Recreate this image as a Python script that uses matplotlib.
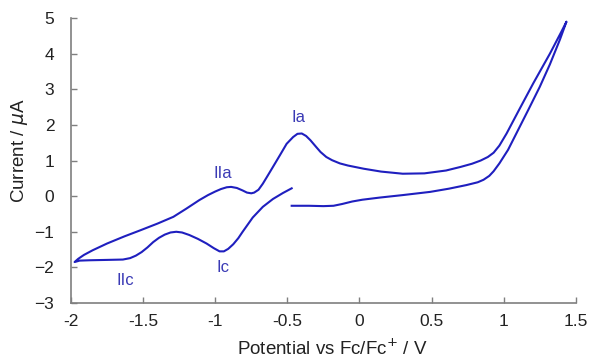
import matplotlib
matplotlib.use("Agg")
import matplotlib.pyplot as plt

plt.rcParams['font.family'] = ['Liberation Sans', 'DejaVu Sans']

# Forward (anodic) sweep from -0.47 V to 1.435 V
x_fwd = [-0.47, -0.35, -0.25, -0.18, -0.12, -0.05, 0.02, 0.14, 0.30, 0.49, 0.62,
         0.74, 0.82, 0.86, 0.90, 0.93, 0.97, 1.03, 1.09, 1.17, 1.25, 1.32, 1.39, 1.435]
y_fwd = [-0.27, -0.27, -0.28, -0.27, -0.22, -0.15, -0.10, -0.04, 0.03, 0.12, 0.21,
         0.31, 0.39, 0.46, 0.57, 0.70, 0.92, 1.30, 1.78, 2.42, 3.07, 3.70, 4.40, 4.90]

# Reverse (cathodic) sweep from 1.435 V to -1.975 V
x_rev = [1.40, 1.32, 1.205, 1.11, 1.02, 0.97, 0.93, 0.89, 0.84, 0.78, 0.70, 0.60,
         0.45, 0.30, 0.15, 0.03, -0.08, -0.136, -0.19, -0.23, -0.27, -0.30, -0.34,
         -0.37, -0.40, -0.43, -0.46, -0.505, -0.55, -0.60, -0.64, -0.67, -0.70,
         -0.73, -0.75, -0.78, -0.81, -0.85, -0.89, -0.92, -0.96, -1.00, -1.05,
         -1.11, -1.20, -1.29, -1.40, -1.52, -1.63, -1.75, -1.85, -1.91, -1.95, -1.975]
y_rev = [4.62, 4.00, 3.17, 2.45, 1.76, 1.42, 1.22, 1.10, 1.00, 0.91, 0.82, 0.72,
         0.64, 0.63, 0.69, 0.77, 0.86, 0.92, 1.01, 1.10, 1.24, 1.38, 1.57,
         1.69, 1.76, 1.75, 1.66, 1.47, 1.16, 0.82, 0.55, 0.35, 0.18,
         0.10, 0.08, 0.10, 0.16, 0.23, 0.26, 0.25, 0.20, 0.13, 0.03,
         -0.11, -0.35, -0.58, -0.77, -0.96, -1.13, -1.33, -1.52, -1.65, -1.76, -1.85]

# Return sweep from -1.975 V back to -0.47 V
x_ret = [-1.94, -1.87, -1.75, -1.64, -1.59, -1.55, -1.51, -1.47, -1.43, -1.39,
         -1.35, -1.31, -1.27, -1.23, -1.18, -1.12, -1.06, -1.01, -0.97, -0.94,
         -0.91, -0.875, -0.84, -0.81, -0.74, -0.67, -0.60, -0.53, -0.47]
y_ret = [-1.81, -1.80, -1.79, -1.78, -1.74, -1.67, -1.57, -1.44, -1.29, -1.17,
         -1.08, -1.02, -1.00, -1.02, -1.09, -1.20, -1.33, -1.46, -1.55, -1.55,
         -1.48, -1.35, -1.18, -1.00, -0.60, -0.30, -0.08, 0.09, 0.22]

peak_labels = ["Ia", "IIa", "Ic", "IIc"]
peak_x = [-0.42, -0.945, -0.945, -1.62]
peak_y = [2.22, 0.65, -1.99, -2.36]

x_ticks = [-2, -1.5, -1, -0.5, 0, 0.5, 1, 1.5]
x_ticklabels = ["-2", "-1.5", "-1", "-0.5", "0", "0.5", "1", "1.5"]
y_ticks = [-3, -2, -1, 0, 1, 2, 3, 4, 5]

line_color = "#1f1fbf"
text_color = "#3a3ab5"
axis_color = "#7f7f7f"

fig = plt.figure(figsize=(5.9, 3.62), dpi=100)
ax = fig.add_axes([0.1203, 0.163, 0.976 - 0.1203, 0.950 - 0.163])

ax.plot(x_fwd + x_rev + x_ret, y_fwd + y_rev + y_ret, color=line_color, lw=1.5,
        solid_joinstyle='round')

for lab, px, py in zip(peak_labels, peak_x, peak_y):
    ax.text(px, py, lab, color=text_color, fontsize=12, ha='center', va='center')

ax.set_xlim(-2, 1.5)
ax.set_ylim(-3, 5)
ax.set_xticks(x_ticks)
ax.set_xticklabels(x_ticklabels)
ax.set_yticks(y_ticks)

for s in ['top', 'right']:
    ax.spines[s].set_visible(False)
for s in ['left', 'bottom']:
    ax.spines[s].set_color(axis_color)
    ax.spines[s].set_linewidth(1.2)

ax.tick_params(axis='both', direction='in', length=4, width=1, color=axis_color,
               labelsize=12.5, labelcolor='#222222')
ax.tick_params(axis='y', pad=12)
ax.tick_params(axis='x', pad=8)

ax.set_ylabel("Current / $\\mu$A", fontsize=13.5, color='#222222', va='center')
ax.set_xlabel("Potential vs Fc/Fc$^{+}$ / V", fontsize=13.5, color='#222222', va='center')
ax.yaxis.set_label_coords(-0.101, 0.533)
ax.xaxis.set_label_coords(0.518, -0.163)

fig.savefig("out.png", dpi=100)
